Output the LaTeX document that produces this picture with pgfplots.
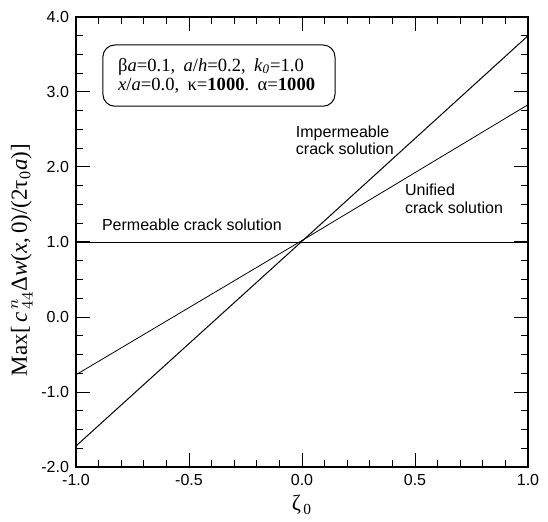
\documentclass[border=0pt]{standalone}
\usepackage{fontspec}
\setmainfont{Liberation Sans}
\newfontfamily\tms{Liberation Serif}
\usepackage{pgfplots}
\pgfplotsset{compat=1.18}
\usetikzlibrary{calc}

\begin{document}
\begin{tikzpicture}
\begin{axis}[
  name=ax,
  scale only axis,
  width=226pt,height=225pt,
  xmin=-1,xmax=1,ymin=-2,ymax=4,
  xtick={-1,-0.5,0,0.5,1},ytick={-2,-1,0,1,2,3,4},
  minor x tick num=4,minor y tick num=3,
  tick align=inside,
  major tick length=7pt,minor tick length=3.5pt,
  axis line style={line width=0.8pt},
  every tick/.style={black,line width=0.5pt},
  tick label style={font=\fontsize{8}{9}\selectfont},
  /pgf/number format/assume math mode=true,
  /pgf/number format/fixed,
  /pgf/number format/fixed zerofill,
  /pgf/number format/precision=1,
  xlabel={\tms\fontsize{11}{12}\selectfont ζ\textsubscript{\,0}},
  xlabel style={at={(axis description cs:0.5,0)},anchor=center,yshift=-19pt},
  ylabel={\tms\fontsize{11.5}{12}\selectfont Max[\,\textit{c}$^{\,n}_{\,44}$Δ\textit{w}(\textit{x},\,0)/(2τ\textsubscript{0}\textit{a})]},
  ylabel style={at={(axis description cs:-0.12,0.46)},anchor=center},
  cycle list={{black,line width=0.5pt,no markers}},
  clip=false
]
% permeable crack solution
\addplot coordinates {(-1,1.0)(1,1.0)};
% impermeable crack solution
\addplot coordinates {(-1,-1.72)(0,1.01)(1,3.75)};
% unified crack solution
\addplot coordinates {(-1,-0.77)(0,1.02)(1,2.83)};

\node[anchor=west,font=\fontsize{8}{8}\selectfont] at (axis cs:-0.916,1.227) {Permeable crack solution};
\node[anchor=west,align=left,font=\fontsize{8}{8.5}\selectfont] at (axis cs:-0.058,2.35) {Impermeable\\crack solution};
\node[anchor=west,align=left,font=\fontsize{8}{9}\selectfont] at (axis cs:0.425,1.57) {Unified\\crack solution};

\draw[rounded corners=6pt,line width=0.5pt] (axis cs:-0.881,3.627) rectangle (axis cs:0.146,2.81);
\node[anchor=west,align=left,font=\tms\fontsize{9.3}{9.5}\selectfont] at (axis cs:-0.845,3.215)
  {β\textit{a}=0.1,\hspace{0.45em}\textit{a}/\textit{h}=0.2,\hspace{0.45em}\textit{k}\textsubscript{\textit{0}}=1.0\\
   \textit{x}/\textit{a}=0.0,\hspace{0.45em}κ=\textbf{1000}.\hspace{0.45em}α=\textbf{1000}};
\end{axis}
\path[use as bounding box] ($(ax.south west)+(-38pt,-26pt)$) rectangle ($(ax.north east)+(10pt,8.5pt)$);
\end{tikzpicture}
\end{document}
